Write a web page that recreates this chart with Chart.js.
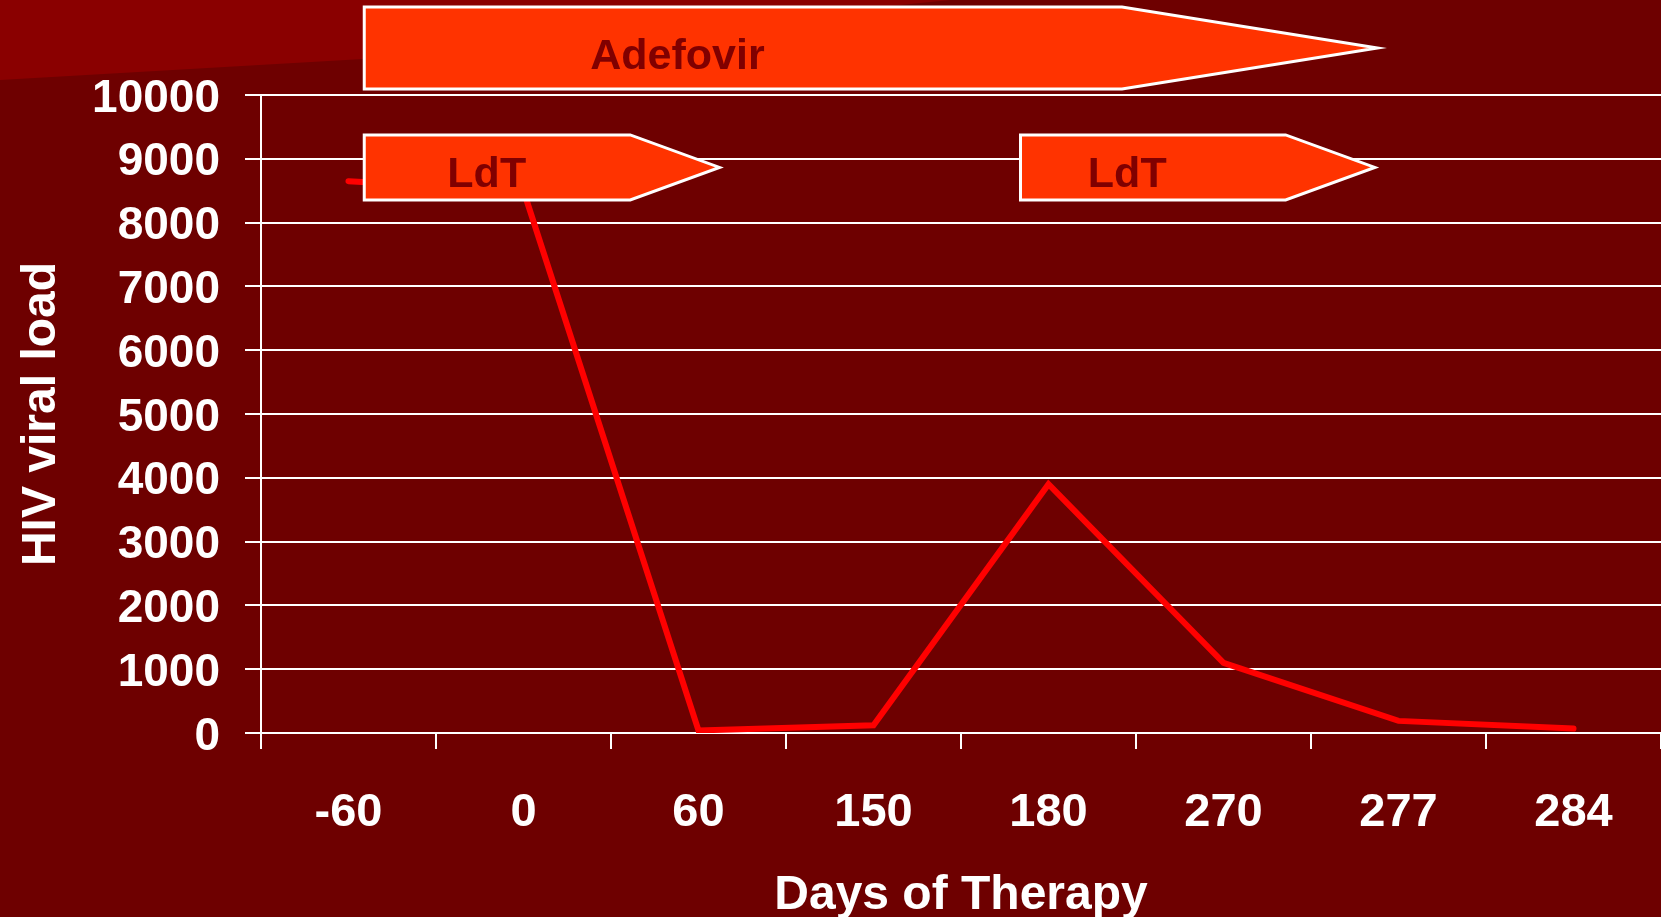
<!DOCTYPE html>
<html>
<head>
<meta charset="utf-8">
<script src="https://cdn.jsdelivr.net/npm/chart.js@4/dist/chart.umd.min.js"></script>
<style>
  html, body { margin: 0; padding: 0; background: #6e0000; }
  #wrap { width: 1661px; height: 917px; }
</style>
</head>
<body>
<div id="wrap"><canvas id="chart" width="1661" height="917"></canvas></div>
<script>
const days = ["-60", "0", "60", "150", "180", "270", "277", "284"];
const viralLoad = [8650, 8500, 40, 120, 3900, 1100, 190, 70];
const yMin = 0;
const yMax = 10000;
const yStep = 1000;

// treatment arrows: x in category index units, y in axis units
const arrows = [
    { text: "Adefovir", x0: 0.09, x1: 4.42, x2: 5.88, yTop: 11380, yBot: 10095, tx: 1.88, ty: 10600 },
    { text: "LdT", x0: 0.09, x1: 1.61, x2: 2.12, yTop: 9375, yBot: 8355, tx: 0.79, ty: 8745 },
    { text: "LdT", x0: 3.84, x1: 5.355, x2: 5.865, yTop: 9375, yBot: 8355, tx: 4.45, ty: 8745 },
];

const FONT = "'Liberation Sans', Arial, sans-serif";

const backdrop = {
    id: "backdrop",
    beforeDraw(chart) {
        const ctx = chart.ctx;
        const w = chart.width, h = chart.height;
        ctx.save();
        ctx.fillStyle = "#6e0000";
        ctx.fillRect(0, 0, w, h);
        ctx.fillStyle = "#8a0000";
        ctx.beginPath();
        ctx.moveTo(0, 0);
        ctx.lineTo(950, 0);
        ctx.lineTo(363, 59);
        ctx.lineTo(0, 80);
        ctx.closePath();
        ctx.fill();
        ctx.restore();
    }
};

const treatmentArrows = {
    id: "treatmentArrows",
    afterDatasetsDraw(chart) {
        const ctx = chart.ctx;
        const xs = chart.scales.x, ys = chart.scales.y;
        ctx.save();
        arrows.forEach(a => {
            const l = xs.getPixelForValue(a.x0);
            const r = xs.getPixelForValue(a.x1);
            const tip = xs.getPixelForValue(a.x2);
            const t = ys.getPixelForValue(a.yTop);
            const b = ys.getPixelForValue(a.yBot);
            ctx.beginPath();
            ctx.moveTo(l, t);
            ctx.lineTo(r, t);
            ctx.lineTo(tip, (t + b) / 2);
            ctx.lineTo(r, b);
            ctx.lineTo(l, b);
            ctx.closePath();
            ctx.fillStyle = "#ff3300";
            ctx.fill();
            ctx.strokeStyle = "#ffffff";
            ctx.lineWidth = 3;
            ctx.lineJoin = "miter";
            ctx.stroke();
            ctx.fillStyle = "#800000";
            ctx.font = "bold 43px " + FONT;
            ctx.textAlign = "center";
            ctx.textBaseline = "middle";
            ctx.fillText(a.text, xs.getPixelForValue(a.tx), ys.getPixelForValue(a.ty));
        });
        ctx.restore();
    }
};

new Chart(document.getElementById("chart"), {
    type: "line",
    data: {
        labels: days,
        datasets: [{
            label: "HIV viral load",
            data: viralLoad,
            borderColor: "#ff0000",
            borderWidth: 6,
            borderCapStyle: "round",
            borderJoinStyle: "miter",
            pointRadius: 0,
            tension: 0,
        }],
    },
    options: {
        responsive: false,
        animation: false,
        layout: { padding: { top: 95, left: 0, right: 0, bottom: 0 } },
        plugins: { legend: { display: false }, tooltip: { enabled: false } },
        scales: {
            x: {
                offset: true,
                afterFit(scale) { scale.height = 184; },
                grid: {
                    offset: true,
                    drawOnChartArea: false,
                    drawTicks: true,
                    tickLength: 16,
                    color: "#ffffff",
                    lineWidth: 2,
                },
                border: { display: false },
                ticks: {
                    color: "#ffffff",
                    font: { family: FONT, size: 47, weight: "bold" },
                    padding: 36,
                    maxRotation: 0,
                    autoSkip: false,
                },
                title: {
                    display: true,
                    text: "Days of Therapy",
                    color: "#ffffff",
                    font: { family: FONT, size: 48, weight: "bold", lineHeight: 0.9 },
                    padding: { top: 0, bottom: 0 },
                },
            },
            y: {
                min: yMin,
                max: yMax,
                afterFit(scale) { scale.width = 261; },
                grid: {
                    color: "#ffffff",
                    lineWidth: 2,
                    drawTicks: true,
                    tickLength: 16,
                },
                border: { display: true, color: "#ffffff", width: 2 },
                ticks: {
                    stepSize: yStep,
                    color: "#ffffff",
                    font: { family: FONT, size: 46, weight: "bold" },
                    padding: 25,
                    labelOffset: 4,
                    callback: v => String(v),
                },
                title: {
                    display: true,
                    text: "HIV viral load",
                    color: "#ffffff",
                    font: { family: FONT, size: 48, weight: "bold" },
                    padding: { top: 13, bottom: 0 },
                },
            },
        },
    },
    plugins: [backdrop, treatmentArrows],
});
</script>
</body>
</html>
